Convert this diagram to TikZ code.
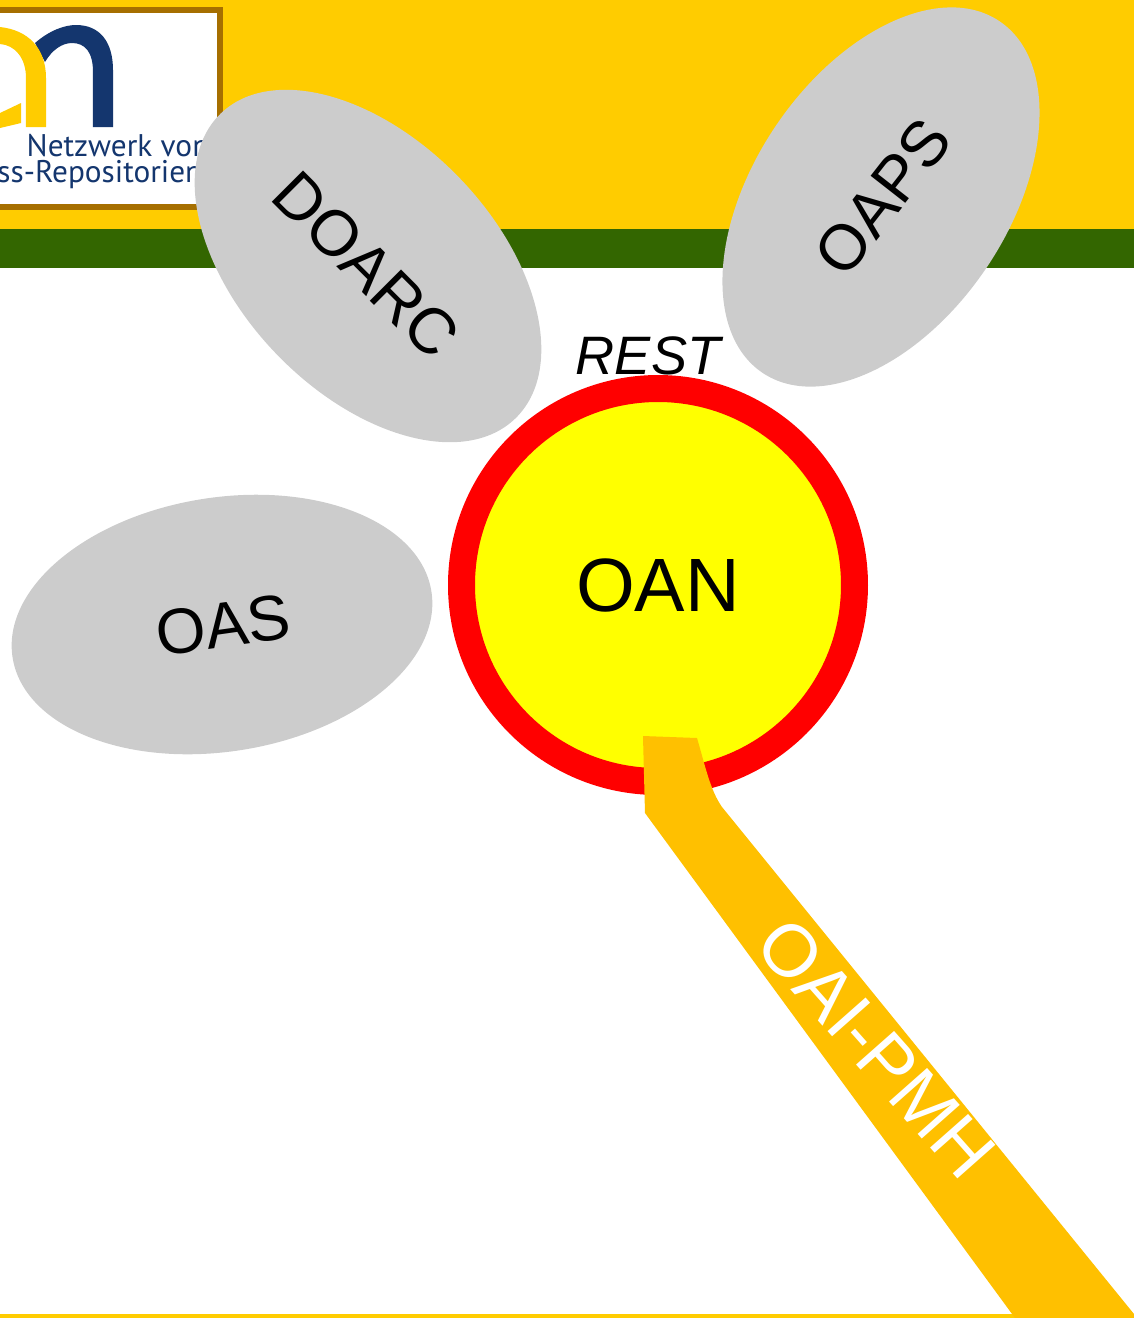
\documentclass[tikz,border=0pt]{standalone}
\usepackage{fontspec}
\setmainfont{Liberation Sans}
\newfontfamily\logofont{PT Sans}
\usetikzlibrary{shapes.geometric}
\definecolor{headeryellow}{HTML}{FFCC00}
\definecolor{headergreen}{HTML}{336600}
\definecolor{logobrown}{HTML}{A66F00}
\definecolor{logoblue}{HTML}{14366E}
\definecolor{bandyellow}{HTML}{FFC000}
\definecolor{servicegray}{HTML}{CCCCCC}
\definecolor{oanyellow}{HTML}{FFFF00}
\definecolor{oanred}{HTML}{FF0000}
\tikzset{
  servicenode/.style={ellipse, fill=servicegray, minimum width=4.24cm, minimum height=2.54cm,
    inner sep=0pt},
  logotext/.style={text=logoblue, inner sep=0pt, font=\logofont\fontsize{8.9}{10}\selectfont},
}
\begin{document}
\begin{tikzpicture}
  \useasboundingbox (0.00, 0.00) rectangle (11.34, -13.18);
  % header
  \fill[headeryellow] (0.00, 0.00) rectangle (11.34, -2.29);
  \fill[headergreen] (0.00, -2.29) rectangle (11.34, -2.68);
  \fill[headeryellow] (0.00, -13.14) rectangle (11.34, -13.18);
  % logo
  \draw[logobrown, fill=white, line width=0.06cm] (-0.10, -0.10) rectangle (2.20, -2.07);
  \fill[logoblue] (0.35, -0.43) .. controls (0.50, -0.30) and (0.65, -0.25) .. (0.76, -0.25)
    .. controls (1.00, -0.25) and (1.13, -0.42) .. (1.13, -0.70) -- (1.13, -1.27) -- (0.93, -1.27)
    -- (0.93, -0.72) .. controls (0.93, -0.52) and (0.85, -0.43) .. (0.72, -0.43)
    .. controls (0.62, -0.43) and (0.52, -0.50) .. (0.45, -0.62) -- cycle;
  \fill[headeryellow] (0.00, -0.27) .. controls (0.28, -0.30) and (0.46, -0.48) .. (0.46, -0.78)
    -- (0.46, -1.27) -- (0.26, -1.27) -- (0.26, -0.78) .. controls (0.26, -0.58) and (0.15, -0.45) .. (0.00, -0.44) -- cycle;
  \fill[headeryellow] (0.00, -1.13) -- (0.21, -1.03) -- (0.21, -1.23) -- (0.00, -1.28) -- cycle;
  \node[logotext, anchor=base west] (netzwerk) at (0.26, -1.56) {Netzwerk von};
  \node[logotext, anchor=base east] (repositorien) at (2.03, -1.82) {ss-Repositorien};
  % services
  \node[servicenode, rotate=-46] (doarc) at (3.68, -2.66) {};
  \node[rotate=-45, font=\fontsize{18.3}{20}\selectfont] (doarclabel) at (3.66, -2.65) {DOARC};
  \node[servicenode, rotate=56] (oaps) at (8.81, -1.97) {};
  \node[rotate=52, font=\fontsize{18.2}{20}\selectfont] (oapslabel) at (8.83, -1.97) {OAPS};
  \node[servicenode, rotate=9] (oas) at (2.22, -6.245) {};
  \node[rotate=8, font=\fontsize{18.2}{20}\selectfont] (oaslabel) at (2.23, -6.25) {OAS};
  % network
  \node[circle, draw=oanred, fill=oanyellow, line width=0.27cm, minimum size=3.93cm, inner sep=0pt,
    font=\fontsize{21.5}{26}\selectfont] (oan) at (6.58, -5.85) {OAN};
  \node[font=\itshape\fontsize{15.4}{20}\selectfont] (rest) at (6.48, -3.56) {REST};
  % band
  \fill[bandyellow] (6.43, -7.36) -- (6.97, -7.38) .. controls (7.05, -7.65) and (7.10, -7.90) .. (7.22, -8.07)
    -- (11.34, -13.14) -- (11.34, -13.18) -- (10.15, -13.18) -- (6.45, -8.13) -- cycle;
  \node[rotate=-48.5, text=white, font=\fontsize{21}{24}\selectfont] (oaipmh) at (8.76, -10.48) {OAI-PMH};
\end{tikzpicture}
\end{document}
